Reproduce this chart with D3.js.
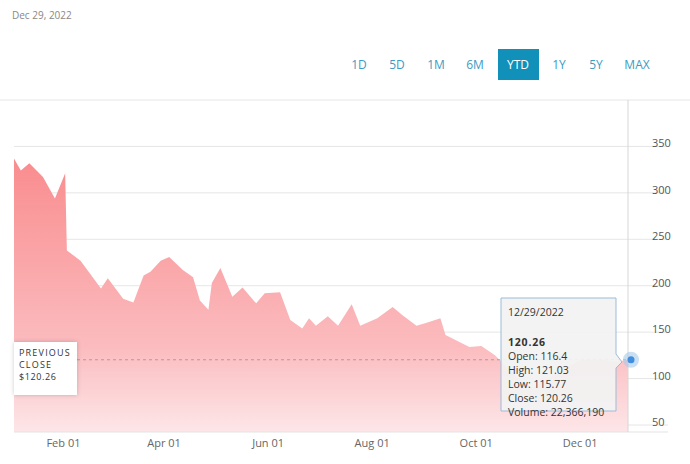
<!DOCTYPE html>
<html><head><meta charset="utf-8">
<script src="https://cdn.jsdelivr.net/npm/d3@7"></script>
<style>body{margin:0;background:#fff;font-family:"Open Sans",sans-serif}</style>
</head><body><svg id="chart" width="690" height="464"></svg>
<script>
const dates = ["2022-01-03","2022-01-07","2022-01-12","2022-01-20","2022-01-27","2022-02-02","2022-02-03","2022-02-11","2022-02-23","2022-02-27","2022-03-08","2022-03-14","2022-03-20","2022-03-24","2022-03-30","2022-04-04","2022-04-12","2022-04-18","2022-04-22","2022-04-27","2022-04-29","2022-05-04","2022-05-11","2022-05-17","2022-05-25","2022-05-30","2022-06-08","2022-06-14","2022-06-21","2022-06-25","2022-06-29","2022-07-06","2022-07-12","2022-07-20","2022-07-25","2022-08-04","2022-08-13","2022-08-19","2022-08-27","2022-09-02","2022-09-10","2022-09-13","2022-09-27","2022-10-04","2022-10-12","2022-10-27","2022-11-03","2022-11-22","2022-12-01","2022-12-14","2022-12-22","2022-12-29"];
const prices = [337,324,332,317,294,321,238,227,197,208,186,182,211,215,227,231,217,209,184,174,203,219,188,198,181,192,193,163,154,165,157,167,157,180,157,165,177,168,157,160,165,147,134,135,125,98,90,111,120,120,118,120.26];
const yTicks = [50,100,150,200,250,300,350];
const xTicks = ["2022-02-01","2022-04-01","2022-06-01","2022-08-01","2022-10-01","2022-12-01"];
const ranges = ["1D","5D","1M","6M","YTD","1Y","5Y","MAX"];
const tipLines = ["Open: 116.4","High: 121.03","Low: 115.77","Close: 120.26","Volume: 22,366,190"];
const prevClose = 120.26;

const parse = d3.timeParse("%Y-%m-%d");
const data = dates.map((d, i) => ({date: parse(d), value: prices[i]}));
const svg = d3.select("#chart");

const x = d3.scaleTime().domain([parse("2022-01-03"), parse("2022-12-29")]).range([14, 628]);
const y = d3.scaleLinear().domain([50, 400]).range([425, 100]);

svg.append("text").attr("x", 12).attr("y", 19).attr("font-size", 10).attr("fill", "#888").text("Dec 29, 2022");

// range buttons
const btnX = [359, 397, 436, 475, 518, 559, 596, 637];
svg.append("rect").attr("x", 498).attr("y", 49).attr("width", 41).attr("height", 31).attr("fill", "#1190ba");
ranges.forEach((r, i) => {
  svg.append("text").attr("x", btnX[i]).attr("y", 69).attr("text-anchor", "middle")
     .attr("font-size", 12).attr("fill", r === "YTD" ? "#fff" : "#3b9cc4").text(r);
});

// gradient
const grad = svg.append("defs").append("linearGradient").attr("id", "fillGrad")
  .attr("gradientUnits", "userSpaceOnUse").attr("x1", 0).attr("x2", 0).attr("y1", 150).attr("y2", 432);
grad.append("stop").attr("offset", 0).attr("stop-color", "#f98a8c");
grad.append("stop").attr("offset", 0.7).attr("stop-color", "#fbbcbf");
grad.append("stop").attr("offset", 1).attr("stop-color", "#fde6e8");

// grid
svg.append("line").attr("x1", 0).attr("x2", 690).attr("y1", 100).attr("y2", 100).attr("stroke", "#e6e6e6");
yTicks.forEach(t => {
  svg.append("line").attr("x1", 14).attr("x2", 668).attr("y1", y(t)).attr("y2", y(t)).attr("stroke", "#e6e6e6");
  svg.append("text").attr("x", 652).attr("y", y(t) + 1).attr("font-size", 11).attr("fill", "#555")
     .attr("text-anchor", "start").text(t);
});

const area = d3.area().x(d => x(d.date)).y0(432).y1(d => y(d.value)).curve(d3.curveLinear);
svg.append("path").datum(data).attr("d", area).attr("fill", "url(#fillGrad)");

svg.append("line").attr("x1", 14).attr("x2", 668).attr("y1", 432).attr("y2", 432).attr("stroke", "#e3e3e3");
xTicks.forEach(t => {
  svg.append("text").attr("x", x(parse(t))).attr("y", 447).attr("text-anchor", "middle")
     .attr("font-size", 11).attr("fill", "#666").text(d3.timeFormat("%b %d")(parse(t)));
});

// crosshair
svg.append("line").attr("x1", 628).attr("x2", 628).attr("y1", 100).attr("y2", 432).attr("stroke", "#d6d6d6");

// previous close
svg.append("line").attr("x1", 77).attr("x2", 628).attr("y1", y(prevClose)).attr("y2", y(prevClose))
   .attr("stroke", "#b08a8c").attr("stroke-dasharray", "3,3").attr("stroke-width", 0.8);
svg.append("rect").attr("x", 14).attr("y", 342).attr("width", 63).attr("height", 53).attr("fill", "#fff")
   .style("filter", "drop-shadow(0 0 2px rgba(0,0,0,0.2))");
["PREVIOUS", "CLOSE", "$" + prevClose].forEach((s, i) => {
  svg.append("text").attr("x", 19).attr("y", 356 + i * 12).attr("font-size", 9).attr("fill", "#333")
     .attr("letter-spacing", i < 2 ? 1.2 : 0.6).text(s);
});

// tooltip
const tip = svg.append("g");
tip.append("path").attr("d", "M501,298 H616 V354 L622,362 L616,368 V411 H501 Z")
   .attr("fill", "#f2f2f2").attr("fill-opacity", 0.93).attr("stroke", "#9dbbd8");
tip.append("text").attr("x", 508).attr("y", 316).attr("font-size", 10.5).attr("fill", "#333").text("12/29/2022");
tip.append("text").attr("x", 508).attr("y", 346).attr("font-size", 10.5).attr("font-weight", "bold")
   .attr("fill", "#333").attr("letter-spacing", 0.8).text("120.26");
tipLines.forEach((s, i) => {
  tip.append("text").attr("x", 508).attr("y", 360 + i * 14).attr("font-size", 10.5).attr("fill", "#333").text(s);
});
svg.append("circle").attr("cx", 631).attr("cy", y(prevClose)).attr("r", 8).attr("fill", "#a9c9ea").attr("opacity", 0.6);
svg.append("circle").attr("cx", 631).attr("cy", y(prevClose)).attr("r", 3.5).attr("fill", "#3f8fde");
</script></body></html>
